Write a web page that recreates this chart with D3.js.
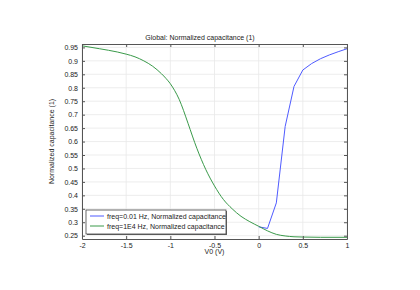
<!DOCTYPE html>
<html>
<meta charset="utf-8" />
<head>
<title>Global: Normalized capacitance</title>
<style>
body { margin: 0; background: #fff; }
svg text {
  font-family: "Liberation Sans", Arial, sans-serif;
  font-size: 7px;
  fill: #222;
}
</style>
<script src="https://cdn.jsdelivr.net/npm/d3@7"></script>
</head>
<body>
<svg class="chart"></svg>
<script>
var chartWidth = 420;
var chartHeight = 290;

/********
 * Data *
 ********/

var seriesNames = ["freq=0.01 Hz, Normalized capacitance", "freq=1E4 Hz, Normalized capacitance"];

// low frequency (only the part that leaves the high-frequency curve is visible)
var lowFreqV = [0, 0.1, 0.2, 0.3, 0.4, 0.5, 0.6, 0.7, 0.8, 0.9, 1.0];
var lowFreqC = [0.283, 0.277, 0.372, 0.656, 0.805, 0.866, 0.890, 0.908, 0.922, 0.934, 0.945];

// high frequency
var highFreqV = [-2.0, -1.8, -1.6, -1.5, -1.4, -1.3, -1.2, -1.1, -1.05, -1.0, -0.95, -0.9, -0.85, -0.8, -0.7, -0.6, -0.5,
                 -0.4, -0.3, -0.2, -0.1, 0.0, 0.1, 0.2, 0.3, 0.4, 0.5, 0.7, 1.0];
var highFreqC = [0.956, 0.945, 0.933, 0.925, 0.915, 0.900, 0.880, 0.852, 0.835, 0.815, 0.789, 0.757, 0.715, 0.668, 0.575, 0.497, 0.435,
                 0.385, 0.350, 0.322, 0.302, 0.285, 0.268, 0.255, 0.249, 0.246, 0.245, 0.244, 0.244];

var xTicks = [-2, -1.5, -1, -0.5, 0, 0.5, 1];
var yTicks = [0.25, 0.3, 0.35, 0.4, 0.45, 0.5, 0.55, 0.6, 0.65, 0.7, 0.75, 0.8, 0.85, 0.9, 0.95];

/**********
 * Layout *
 **********/
var plotLeft = 82, plotRight = 347, plotTop = 44, plotBottom = 239;

var svg = d3.select(".chart")
    .attr("width", chartWidth)
    .attr("height", chartHeight);

var x = d3.scaleLinear().domain([-2, 1]).range([plotLeft, plotRight]);
var y = d3.scaleLinear().domain([0.2377, 0.9627]).range([plotBottom, plotTop]);

var fmt = function(d){ return String(Math.round(d * 100) / 100); };

// grid
svg.append("g").selectAll("line").data(xTicks).enter().append("line")
    .attr("x1", function(d){ return x(d); }).attr("x2", function(d){ return x(d); })
    .attr("y1", plotTop).attr("y2", plotBottom)
    .attr("stroke", "#e8e8e8").attr("stroke-width", 0.8);

svg.append("g").selectAll("line").data(yTicks).enter().append("line")
    .attr("y1", function(d){ return y(d); }).attr("y2", function(d){ return y(d); })
    .attr("x1", plotLeft).attr("x2", plotRight)
    .attr("stroke", "#e8e8e8").attr("stroke-width", 0.8);

// curves
var blueLine = d3.line()
    .x(function(d){ return x(d[0]); })
    .y(function(d){ return y(d[1]); });

var greenLine = d3.line()
    .x(function(d){ return x(d[0]); })
    .y(function(d){ return y(d[1]); })
    .curve(d3.curveMonotoneX);

svg.append("path")
    .datum(d3.zip(lowFreqV, lowFreqC))
    .attr("d", blueLine)
    .attr("fill", "none")
    .attr("stroke", "#4f5bff")
    .attr("stroke-width", 1);

svg.append("path")
    .datum(d3.zip(highFreqV, highFreqC))
    .attr("d", greenLine)
    .attr("fill", "none")
    .attr("stroke", "#3a9a4a")
    .attr("stroke-width", 1);

// axes (ticks inside on all sides)
var axisColor = "#555";
function styleAxis(g){
  g.select(".domain").attr("stroke", axisColor);
  g.selectAll(".tick line").attr("stroke", axisColor);
  g.selectAll(".tick text").style("font-family", "Liberation Sans, Arial, sans-serif")
    .style("font-size", "7px").attr("fill", "#222");
}

svg.append("g")
    .attr("transform", "translate(0," + plotBottom + ")")
    .call(d3.axisBottom(x).tickValues(xTicks).tickFormat(fmt).tickSizeInner(-3).tickSizeOuter(0).tickPadding(4))
    .call(styleAxis);

svg.append("g")
    .attr("transform", "translate(0," + plotTop + ")")
    .call(d3.axisTop(x).tickValues(xTicks).tickFormat("").tickSizeInner(-3).tickSizeOuter(0))
    .call(styleAxis);

svg.append("g")
    .attr("transform", "translate(" + plotLeft + ",0)")
    .call(d3.axisLeft(y).tickValues(yTicks).tickFormat(fmt).tickSizeInner(-3).tickSizeOuter(0).tickPadding(4))
    .call(styleAxis);

svg.append("g")
    .attr("transform", "translate(" + plotRight + ",0)")
    .call(d3.axisRight(y).tickValues(yTicks).tickFormat("").tickSizeInner(-3).tickSizeOuter(0))
    .call(styleAxis);

// titles
svg.append("text")
    .attr("x", 200).attr("y", 40)
    .attr("text-anchor", "middle")
    .text("Global: Normalized capacitance (1)");

svg.append("text")
    .attr("x", (plotLeft + plotRight) / 2).attr("y", 254)
    .attr("text-anchor", "middle")
    .text("V0 (V)");

svg.append("text")
    .attr("transform", "translate(54," + ((plotTop + plotBottom) / 2) + ") rotate(-90)")
    .attr("text-anchor", "middle")
    .text("Normalized capacitance (1)");

// legend
var legend = svg.append("g");
legend.append("rect")
    .attr("x", 87).attr("y", 211).attr("width", 140).attr("height", 24)
    .attr("fill", "#666");
legend.append("rect")
    .attr("x", 86).attr("y", 210).attr("width", 140).attr("height", 24)
    .attr("fill", "#fff").attr("stroke", "#444").attr("stroke-width", 0.8);

var colors = ["#4f5bff", "#3a9a4a"];
var items = legend.selectAll(".item").data(seriesNames).enter().append("g")
    .attr("transform", function(d, i){ return "translate(0," + (216 + i * 10) + ")"; });
items.append("line")
    .attr("x1", 90).attr("x2", 104)
    .attr("stroke", function(d, i){ return colors[i]; })
    .attr("stroke-width", 1);
items.append("text")
    .attr("x", 107).attr("y", 2.5)
    .text(function(d){ return d; });
</script>
</body>
</html>
